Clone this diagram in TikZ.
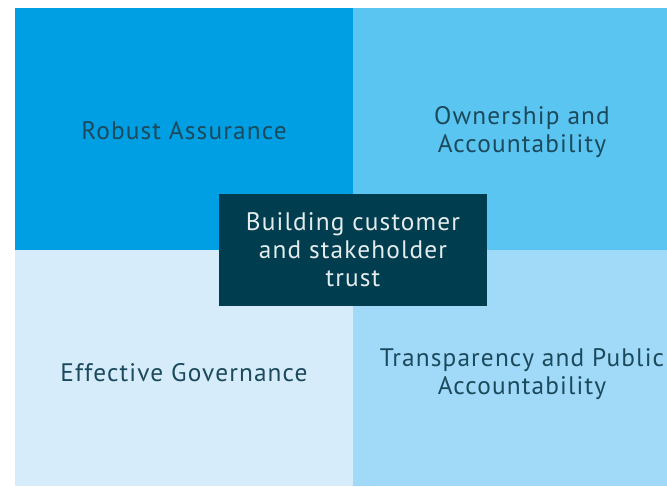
\documentclass[tikz,border=0pt]{standalone}
\usepackage{fontspec}
\setmainfont{PT Sans}[LetterSpace=4.5]
\usepackage{tikz}
\usetikzlibrary{positioning}
\usepackage{xcolor}
\definecolor{qdeep}{RGB}{0,159,227}
\definecolor{qmid}{RGB}{91,197,242}
\definecolor{qpale}{RGB}{214,236,251}
\definecolor{qlight}{RGB}{161,218,248}
\definecolor{qcore}{RGB}{0,61,79}
\definecolor{qtext}{RGB}{27,74,92}
\tikzstyle{label} = [font=\fontsize{19}{21}\selectfont, text=qtext, align=center]

\begin{document}
\begin{tikzpicture}[x=0.75pt, y=-0.75pt]
\useasboundingbox (0,0) rectangle (667,486);
% Quadrants
\fill[qdeep] (15,8) rectangle (353,250);
\fill[qmid] (353,8) rectangle (667,250);
\fill[qpale] (15,250) rectangle (353,486);
\fill[qlight] (353,250) rectangle (667,486);

% Quadrant labels
\node[label] (robust) at (184,131) {Robust Assurance};
\node[label] (owner) at (522,132) {Ownership and\\Accountability};
\node[label] (govern) at (184,373) {Effective Governance};
\node[label] (transp) at (522,374) {Transparency and Public\\Accountability};

% Centre box
\node[label, fill=qcore, minimum width=201pt, minimum height=84pt, inner sep=0pt,
  text=white!90!qcore] (trust) at (353,250)
  {Building customer\\and stakeholder\\trust};
\end{tikzpicture}
\end{document}
